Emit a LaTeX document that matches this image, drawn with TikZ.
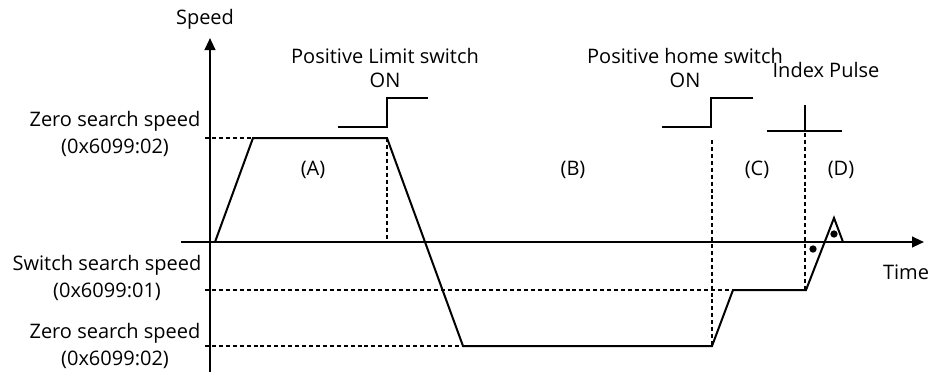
\documentclass[tikz,border=0pt]{standalone}
\usepackage{fontspec}
\setmainfont{Open Sans}
\usetikzlibrary{arrows.meta}
\begin{document}
\begin{tikzpicture}[x=0.75pt,y=-0.75pt,
  lbl/.style={font=\fontsize{15}{18.5}\selectfont,inner sep=0pt,align=center},
  lbll/.style={font=\fontsize{15}{20}\selectfont,inner sep=0pt,align=center},
  axis/.style={line width=1.5pt,-{Triangle[length=9pt,width=8pt]}},
  prof/.style={line width=1.5pt,line join=miter},
  guide/.style={line width=1.2pt,dash pattern=on 3pt off 2.2pt},
  sig/.style={line width=1.5pt},
  dotm/.style={circle,fill=black,inner sep=0pt,minimum size=5.5pt}]
\useasboundingbox (0,0) rectangle (931,372);
% axes
\coordinate (yb) at (210,372);
\coordinate (yt) at (210,38);
\coordinate (xl) at (181,242);
\coordinate (xr) at (924,242);
\draw[axis] (yb) -- (yt);
\draw[axis] (xl) -- (xr);
\node[lbl] (speed) at (205,19) {Speed};
\node[lbl] (time) at (906,272) {Time};
% profile points
\coordinate (p0) at (215,242);
\coordinate (p1) at (253,138);
\coordinate (p2) at (387,138);
\coordinate (p3) at (463,346);
\coordinate (p4) at (712,346);
\coordinate (p5) at (733,290);
\coordinate (p6) at (806,290);
\coordinate (p7) at (834,218);
\coordinate (p8) at (843,242);
\draw[prof] (p0) -- (p1) -- (p2) -- (p3) -- (p4) -- (p5) -- (p6) -- (p7) -- (p8);
% guide lines
\coordinate (g1) at (205,138);
\coordinate (g2) at (205,290);
\coordinate (g3) at (205,346);
\coordinate (a0) at (387,242);
\coordinate (h1) at (712,140);
\coordinate (i1) at (805,133);
\coordinate (i0) at (805,290);
\draw[guide] (g1) -- (p1);
\draw[guide] (g2) -- (p5);
\draw[guide] (g3) -- (p3);
\draw[guide] (p2) -- (a0);
\draw[guide] (h1) -- (p4);
\draw[guide] (i1) -- (i0);
% switch signals
\coordinate (s1a) at (338,127);
\coordinate (s1b) at (387,127);
\coordinate (s1c) at (387,98);
\coordinate (s1d) at (428,98);
\draw[sig] (s1a) -- (s1b) -- (s1c) -- (s1d);
\coordinate (s2a) at (662,127);
\coordinate (s2b) at (711,127);
\coordinate (s2c) at (711,98);
\coordinate (s2d) at (753,98);
\draw[sig] (s2a) -- (s2b) -- (s2c) -- (s2d);
\coordinate (ipl) at (767,131);
\coordinate (ipr) at (842,131);
\coordinate (ipb) at (805,131);
\coordinate (ipt) at (805,105);
\draw[sig] (ipl) -- (ipr);
\draw[sig] (ipb) -- (ipt);
% dots
\node[dotm] (d1) at (813,249) {};
\node[dotm] (d2) at (834,234) {};
% labels
\node[lbl] (lim) at (385,68) {Positive Limit switch\\ON};
\node[lbl] (home) at (685,68) {Positive home switch\\ON};
\node[lbl] (idx) at (826,70) {Index Pulse};
\node[lbl] (A) at (313,170) {(A)};
\node[lbl] (B) at (573,170) {(B)};
\node[lbl] (C) at (757,170) {(C)};
\node[lbl] (D) at (841,170) {(D)};
\node[lbll] (z1) at (115,134) {Zero search speed\\(0x6099:02)};
\node[lbll] (sw) at (107,278) {Switch search speed\\(0x6099:01)};
\node[lbll] (z2) at (115,346) {Zero search speed\\(0x6099:02)};
\end{tikzpicture}
\end{document}
